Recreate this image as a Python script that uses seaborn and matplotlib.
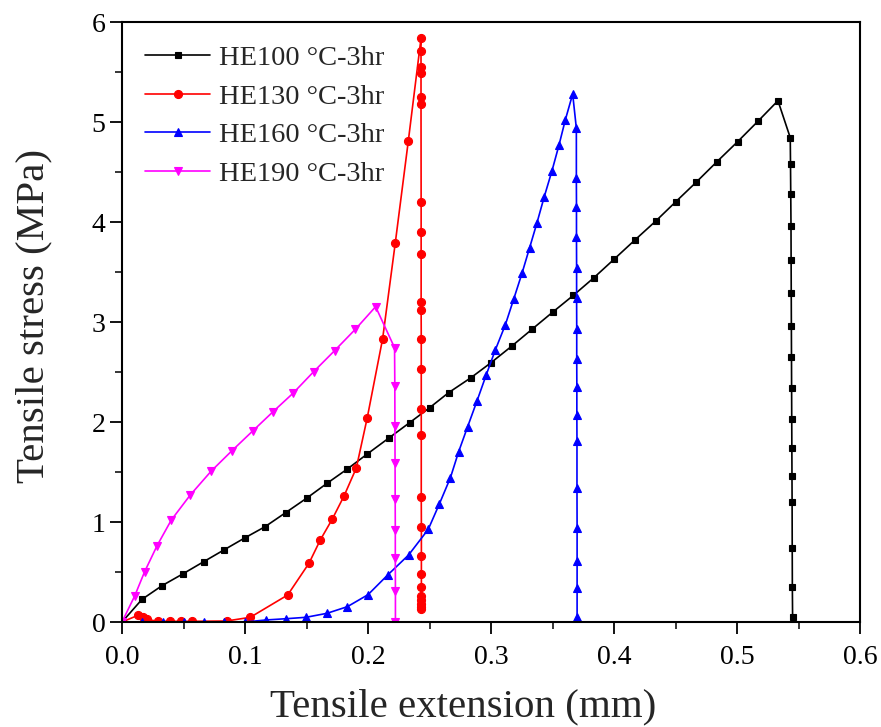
import matplotlib
matplotlib.use("Agg")
import matplotlib.pyplot as plt
import seaborn as sns
import pandas as pd
from matplotlib.ticker import MultipleLocator

labels = ["HE100 \u00b0C-3hr", "HE130 \u00b0C-3hr", "HE160 \u00b0C-3hr", "HE190 \u00b0C-3hr"]

he100_x = [0.0, 0.0163, 0.0325, 0.0493, 0.0664, 0.0832, 0.0997, 0.1163, 0.133, 0.150, 0.1667,
           0.1832, 0.1994, 0.217, 0.2338, 0.2501, 0.2655, 0.2837, 0.300, 0.317, 0.3336, 0.350,
           0.367, 0.3834, 0.400, 0.417, 0.434, 0.450, 0.467, 0.4837, 0.5005, 0.517, 0.5333,
           0.5433, 0.5435, 0.5437, 0.5439, 0.544, 0.5441, 0.5442, 0.5443, 0.5444, 0.5445,
           0.5446, 0.5447, 0.5448, 0.5449, 0.545, 0.5452]
he100_y = [0.0, 0.227, 0.363, 0.48, 0.603, 0.723, 0.84, 0.953, 1.093, 1.237, 1.387,
           1.53, 1.68, 1.84, 1.993, 2.143, 2.293, 2.443, 2.593, 2.76, 2.93, 3.097,
           3.267, 3.44, 3.627, 3.82, 4.01, 4.2, 4.4, 4.603, 4.803, 5.007, 5.213,
           4.843, 4.58, 4.277, 3.96, 3.62, 3.287, 2.96, 2.647, 2.337, 2.027,
           1.737, 1.457, 1.197, 0.737, 0.353, 0.053]

he130_x = [0.0, 0.013, 0.017, 0.020, 0.029, 0.039, 0.048, 0.0568, 0.085, 0.1043, 0.1347,
           0.152, 0.1612, 0.171, 0.1805, 0.1905, 0.1994, 0.2119, 0.2222, 0.2328, 0.2431,
           0.2431, 0.2431, 0.2431, 0.2431, 0.2431, 0.2432, 0.2432, 0.2432, 0.2432, 0.2432,
           0.2433, 0.2433, 0.2433, 0.2433, 0.2433, 0.2434, 0.2434, 0.2434, 0.2434, 0.2434,
           0.2434, 0.2434, 0.2434, 0.2434]
he130_y = [0.0, 0.067, 0.047, 0.027, 0.007, 0.007, 0.007, 0.007, 0.01, 0.047, 0.27,
           0.587, 0.82, 1.03, 1.26, 1.54, 2.043, 2.833, 3.793, 4.813, 5.837,
           5.71, 5.553, 5.487, 5.253, 5.177, 4.203, 3.903, 3.68, 3.203, 3.12,
           2.83, 2.53, 2.127, 1.87, 1.247, 0.947, 0.663, 0.477, 0.353, 0.26,
           0.22, 0.18, 0.153, 0.127]

he160_x = [0.0, 0.0163, 0.0333, 0.050, 0.0664, 0.0832, 0.1002, 0.1168, 0.1336, 0.1496,
           0.1667, 0.1832, 0.200, 0.216, 0.233, 0.249, 0.258, 0.267, 0.2737, 0.281,
           0.2886, 0.296, 0.3035, 0.3116, 0.3184, 0.3252, 0.3314, 0.3374, 0.3433, 0.3496,
           0.3553, 0.3604, 0.3664, 0.3694, 0.3694, 0.3695, 0.3695, 0.3696, 0.3696, 0.3697,
           0.3697, 0.3698, 0.3698, 0.3699, 0.3699, 0.370, 0.370, 0.370, 0.370]
he160_y = [0.0, 0.0, 0.0, 0.0, 0.0, 0.0, 0.0, 0.02, 0.033, 0.047,
           0.087, 0.153, 0.273, 0.47, 0.67, 0.927, 1.18, 1.443, 1.703, 1.953,
           2.21, 2.467, 2.72, 2.97, 3.227, 3.487, 3.743, 3.993, 4.253, 4.513,
           4.77, 5.02, 5.28, 4.937, 4.437, 4.153, 3.853, 3.537, 3.243, 2.93,
           2.63, 2.347, 2.07, 1.81, 1.343, 0.943, 0.61, 0.343, 0.053]

he190_x = [0.0, 0.0103, 0.0184, 0.0285, 0.0401, 0.0555, 0.0726, 0.0894, 0.1065, 0.1228,
           0.139, 0.1558, 0.1728, 0.1897, 0.2062, 0.2216, 0.2218, 0.2219, 0.222, 0.2221,
           0.2222, 0.2222, 0.2223, 0.2223]
he190_y = [0.0, 0.26, 0.503, 0.763, 1.02, 1.27, 1.51, 1.713, 1.913, 2.103,
           2.287, 2.503, 2.713, 2.927, 3.153, 2.743, 2.36, 1.96, 1.587, 1.227,
           0.92, 0.637, 0.31, 0.003]

xs = [he100_x, he130_x, he160_x, he190_x]
ys = [he100_y, he130_y, he160_y, he190_y]
colors = ["#000000", "#FF0000", "#0000FF", "#FF00FF"]
markers = ["s", "o", "^", "v"]
msizes = [5.0, 5.8, 5.5, 5.5]

frames = []
for lab, x, y in zip(labels, xs, ys):
    frames.append(pd.DataFrame({"x": x, "y": y, "series": lab, "order": range(len(x))}))
df = pd.concat(frames, ignore_index=True)

sns.set_style("ticks")
plt.rcParams["font.family"] = ["Liberation Serif", "DejaVu Serif"]

fig = plt.figure(figsize=(8.81, 7.27), dpi=100)
ax = fig.add_axes([122 / 881, 105 / 727, (860 - 122) / 881, (622 - 22) / 727])

for lab, c, m, ms in zip(labels, colors, markers, msizes):
    sub = df[df["series"] == lab]
    sns.lineplot(data=sub, x="x", y="y", sort=False, estimator=None, ax=ax,
                 color=c, marker=m, markersize=ms, markeredgecolor=c,
                 markeredgewidth=0.8, linewidth=1.2, label=lab)

ax.set_xlim(0, 0.6)
ax.set_ylim(0, 6)
ax.xaxis.set_minor_locator(MultipleLocator(0.05))
ax.yaxis.set_minor_locator(MultipleLocator(0.5))
ax.set_xticks([0.0, 0.1, 0.2, 0.3, 0.4, 0.5, 0.6])
ax.set_xticklabels(["0.0", "0.1", "0.2", "0.3", "0.4", "0.5", "0.6"])
ax.set_yticks([0, 1, 2, 3, 4, 5, 6])
ax.set_yticklabels(["0", "1", "2", "3", "4", "5", "6"])

for s in ax.spines.values():
    s.set_visible(True)
    s.set_linewidth(1.5)
    s.set_color("black")
ax.tick_params(axis="x", which="major", pad=8)
ax.tick_params(axis="both", which="major", direction="out", length=8.5, width=1.3,
               labelsize=20, top=False, right=False, colors="black")
ax.tick_params(axis="both", which="minor", direction="out", length=5, width=1.3,
               top=False, right=False)

ax.set_xlabel("Tensile extension (mm)", fontsize=29.5)
ax.set_ylabel("Tensile stress (MPa)", fontsize=29.5)
ax.xaxis.set_label_coords(0.462, -0.11)
ax.yaxis.set_label_coords(-0.094, 0.51)

leg = ax.legend(loc="upper left", frameon=False, fontsize=20.5, handlelength=2.3,
                handletextpad=0.3, labelspacing=0.44, borderaxespad=0.3,
                bbox_to_anchor=(0.004, 0.994))

fig.savefig("out.png", dpi=100)
